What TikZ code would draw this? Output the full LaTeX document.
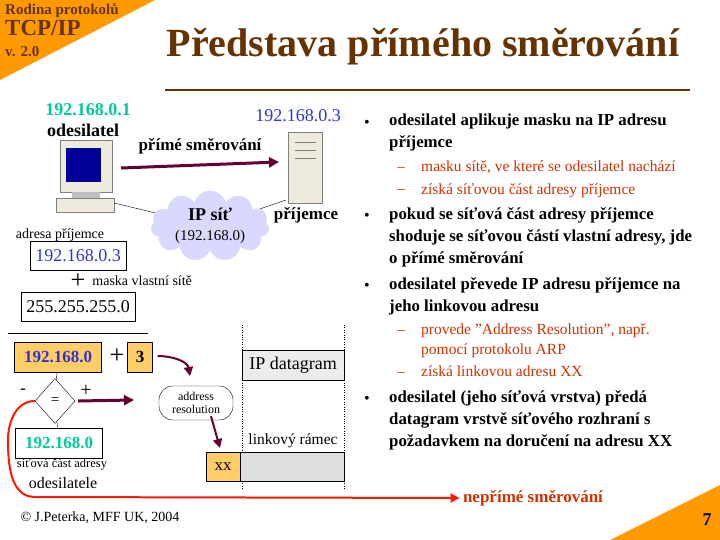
\documentclass[tikz,border=0pt]{standalone}
\usepackage{fontspec}
\setmainfont{Liberation Serif}
\usepackage{xcolor}
\usetikzlibrary{shapes.geometric, shapes.symbols, arrows.meta, positioning}
\definecolor{brn}{HTML}{663300}
\definecolor{org}{HTML}{FF9900}
\definecolor{boxorg}{HTML}{FFCC66}
\definecolor{ipgreen}{HTML}{00CC99}
\definecolor{ipblue}{HTML}{3333CC}
\definecolor{maroon}{HTML}{660033}
\definecolor{subred}{HTML}{CC3300}
\definecolor{beige}{HTML}{EEEBDD}

\begin{document}
\begin{tikzpicture}[x=1pt, y=-1pt,
    bul/.style={anchor=north west, align=left, font=\fontsize{16.8}{22}\selectfont\bfseries, inner sep=0pt},
    sub/.style={anchor=north west, align=left, font=\fontsize{15.5}{20}\selectfont, text=subred, inner sep=0pt},
    addr/.style={draw, font=\fontsize{18}{20}\selectfont, minimum height=29pt, inner xsep=5pt},
    obox/.style={draw, fill=boxorg, font=\fontsize{17}{19}\selectfont\bfseries, minimum height=30pt},
    arrow/.style={-{Triangle[length=10pt,width=10pt]}, line width=3pt, maroon},
    small/.style={font=\fontsize{14}{16}\selectfont},
]
\useasboundingbox (0,0) rectangle (720,540);
\fill[white] (0,0) rectangle (720,540);

% Corners and title
\fill[org] (0,0) -- (155,0) -- (0,80) -- cycle;
\fill[org] (720,540) -- (720,485) -- (610,540) -- cycle;
\node[anchor=north west, align=left, text=brn, inner sep=0pt, font=\fontsize{15}{21}\selectfont\bfseries] (series) at (5,3) {Rodina protokolů\\{\fontsize{23}{21}\selectfont TCP/IP}\\v. 2.0};
\node[text=brn, font=\fontsize{40}{44}\selectfont\bfseries] (title) at (423,47) {Představa přímého směrování};
\draw[brn, line width=2.5pt] (165,90) -- (690,90);
\node[font=\bfseries\fontsize{18}{20}\selectfont] (page) at (707,520) {7};
\node[font=\fontsize{14}{16}\selectfont] (copy) at (100,518) {© J.Peterka, MFF UK, 2004};

% Computer
\fill[beige, draw=gray] (60,140) rectangle (112,192);
\fill[blue!60!black] (66,148) rectangle (101,182);
\fill[gray!50] (72,192) rectangle (100,198);
\fill[beige, draw=gray] (56,198) rectangle (114,212);
% Server
\fill[beige, draw=gray] (288,132) rectangle (322,203);
\foreach \yy in {142,150,158} \draw[gray] (295,\yy) -- (316,\yy);
\coordinate (pcport) at (114,203);
\coordinate (srvport) at (286,200);

\node[text=ipgreen, font=\fontsize{18}{20}\selectfont\bfseries] (srcip) at (88,110) {192.168.0.1};
\node[font=\fontsize{18}{20}\selectfont\bfseries] (src) at (83,130) {odesilatel};
\node[text=ipblue, font=\fontsize{18}{20}\selectfont] (dstip) at (298,116) {192.168.0.3};
\node[font=\fontsize{17}{20}\selectfont\bfseries] (dst) at (306,215) {příjemce};

% Network
\node[cloud, cloud puffs=11, aspect=2, fill=blue!15, draw=blue!15, minimum width=118pt, minimum height=68pt, align=center, inner sep=0pt, font=\fontsize{18}{20}\selectfont] (net) at (210,226) {\textbf{IP síť}\\{\fontsize{15}{17}\selectfont(192.168.0)}};
\draw (pcport) -- (net);
\draw (srvport) -- (net);
\coordinate (dirA) at (121,168);
\coordinate (dirB) at (279,162);
\draw[arrow] (dirA) -- (dirB) node[midway, above=6pt, black, font=\fontsize{17}{19}\selectfont\bfseries] (dirlbl) {přímé směrování};

% Mask
\node[small] (lbladdr) at (60,235) {adresa příjemce};
\node[addr, text=ipblue] (dstbox) at (78,256) {192.168.0.3};
\node[font=\fontsize{26}{26}\selectfont] (plus1) at (78,281) {+};
\node[small, right=0pt of plus1] (lblmask) {maska vlastní sítě};
\node[addr] (maskbox) at (78,307) {255.255.255.0};
\draw (8,333) -- (148,333);

% Comparison
\node[obox, text=ipblue, minimum width=87pt] (netdst) at (58,357) {192.168.0};
\node[font=\fontsize{26}{26}\selectfont] (plus2) at (117,356) {+};
\node[obox, minimum width=25pt] (host) at (140,357) {3};
\node[diamond, draw, minimum width=40pt, minimum height=45pt, inner sep=0pt, font=\fontsize{15}{15}\selectfont] (eq) at (55,401) {=};
\node[obox, fill=white, text=ipgreen, minimum width=87pt] (netsrc) at (59,443) {192.168.0};
\draw (netdst) -- (eq) -- (netsrc);
\node[font=\fontsize{16}{16}\selectfont\bfseries] (minus) at (23,391) {-};
\node[font=\fontsize{20}{20}\selectfont] (plus3) at (86,391) {+};
\node[font=\fontsize{12.5}{14}\selectfont] (lblnet) at (62,464) {síťová část adresy};
\node[font=\fontsize{16}{18}\selectfont] (lblsrc) at (63,483) {odesilatele};
\coordinate (yesend) at (134,400);
\draw[arrow] (eq.east) ++(3pt,0) -- (yesend);

% Address resolution and frames
\node[draw, rounded corners=14pt, align=center, minimum width=74pt, minimum height=34pt, font=\fontsize{12}{13}\selectfont] (arp) at (196,403) {address\\resolution};
\draw[maroon, line width=2pt, -{Triangle[length=9pt,width=9pt]}] (host.east) ++(5pt,1pt) to[out=0, in=100] (190,376);
\draw[maroon, line width=2pt, -{Triangle[length=9pt,width=9pt]}] (arp.south) ++(15pt,4pt) -- (220,448);
\draw[dotted] (242,325) -- (242,490);
\draw[dotted] (344,325) -- (344,490);
\node[draw, fill=gray!15, minimum width=102pt, minimum height=30pt, font=\fontsize{18}{20}\selectfont, anchor=north west] (ipdg) at (242,350) {IP datagram};
\node[font=\fontsize{15.5}{17}\selectfont] (lblframe) at (293,441) {linkový rámec};
\node[draw, fill=gray!25, minimum width=104pt, minimum height=29pt, anchor=north west] (frame) at (240,452) {};
\node[obox, minimum width=34pt, minimum height=29pt, font=\fontsize{17}{19}\selectfont, anchor=north west] (xx) at (206,452) {xx};

% Indirect routing
\node[text=subred, font=\fontsize{17}{19}\selectfont\bfseries] (indir) at (533,498) {nepřímé směrování};
\draw[red!80!orange, line width=2pt, -{Triangle[length=9pt,width=9pt]}] (eq.west) to[out=180, in=90] (8,440) to[out=-90, in=180] (35,497) -- (indir.west);

% Bullets
\foreach \yy in {124,217,287,400} \node[font=\fontsize{16}{16}\selectfont] at (367,\yy) {\textbullet};
\foreach \yy in {170,192,333,375} \node[text=subred, font=\fontsize{15}{15}\selectfont] at (401,\yy) {–};
\node[bul] (b1) at (389,114) {odesilatel aplikuje masku na IP adresu\\příjemce};
\node[sub] (b1a) at (421,161) {masku sítě, ve které se odesilatel nachází};
\node[sub] (b1b) at (421,183) {získá síťovou část adresy příjemce};
\node[bul] (b2) at (389,207) {pokud se síťová část adresy příjemce\\shoduje se síťovou částí vlastní adresy, jde\\o přímé směrování};
\node[bul] (b3) at (389,277) {odesilatel převede IP adresu příjemce na\\jeho linkovou adresu};
\node[sub] (b3a) at (421,324) {provede "Address Resolution", např.\\pomocí protokolu ARP};
\node[sub] (b3b) at (421,366) {získá linkovou adresu XX};
\node[bul] (b4) at (389,390) {odesilatel (jeho síťová vrstva) předá\\datagram vrstvě síťového rozhraní s\\požadavkem na doručení na adresu XX};
\end{tikzpicture}
\end{document}
